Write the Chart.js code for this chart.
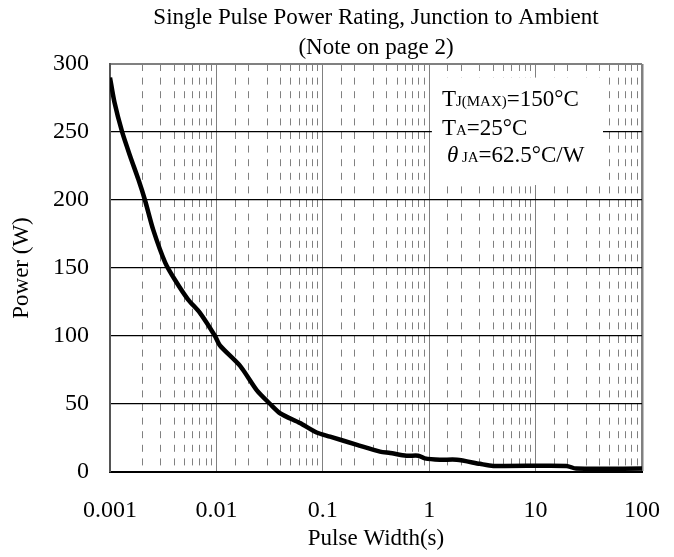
<!DOCTYPE html>
<html>
<head>
<meta charset="utf-8">
<script src="https://cdn.jsdelivr.net/npm/chart.js@4.4.1/dist/chart.umd.min.js"></script>
<style>
  html, body { margin: 0; padding: 0; background: #fff; }
  #wrap { width: 674px; height: 557px; }
</style>
</head>
<body>
<div id="wrap"><canvas id="chart" width="674" height="557"></canvas></div>
<script>
// 单脉冲功率曲线（结到环境）—— 数值从图上读出
const pulseWidth = [0.001, 0.0011, 0.0013, 0.00155, 0.00185, 0.00213, 0.00255, 0.0033, 0.0041,
  0.0054, 0.007, 0.0097, 0.0108, 0.0167, 0.024, 0.032, 0.04, 0.061, 0.0875, 0.117,
  0.21, 0.345, 0.43, 0.61, 0.79, 0.91, 1.26, 1.82, 3.0, 4.0, 19.5, 24, 100]
const powerW = [290, 272, 250, 232, 215, 200, 178, 154, 141,
  127, 117, 100, 93, 78, 60, 50, 43, 36, 29, 26,
  20, 15, 14, 12, 12, 10, 9, 9, 6, 4.5, 4.5, 2.5, 2.5]

const xTickLabels = ['0.001', '0.01', '0.1', '1', '10', '100']
const xDecades = [0.001, 0.01, 0.1, 1, 10, 100]

const titleLines = ['Single Pulse Power Rating, Junction to Ambient', '(Note on page 2)']

// 注释框：x 范围（秒）、y 范围（W）
const noteBoxX = [1.06, 43]
const noteBoxY = [211, 290]
// 每行：[正文, 下标, 正文]
const noteLines = [
  ['T', 'J(MAX)', '=150°C'],
  ['T', 'A', '=25°C'],
  ['θ', ' JA', '=62.5°C/W']
]

const FONT = "'Liberation Serif', 'DejaVu Serif', serif"
Chart.defaults.font.family = FONT
Chart.defaults.color = '#000'

const isDecade = (v) => xDecades.some(d => Math.abs(v / d - 1) < 1e-6)

// 白底注释框 + 文字
const noteBox = {
  id: 'noteBox',
  beforeDatasetsDraw (chart) {
    const { ctx, scales: { x, y } } = chart
    const l = x.getPixelForValue(noteBoxX[0])
    const r = x.getPixelForValue(noteBoxX[1])
    const t = y.getPixelForValue(noteBoxY[1])
    const b = y.getPixelForValue(noteBoxY[0])
    ctx.save()
    ctx.fillStyle = '#fff'
    ctx.fillRect(l, t, r - l, b - t)
    ctx.fillStyle = '#000'
    ctx.textBaseline = 'alphabetic'
    const baselines = [28, 57, 84]
    noteLines.forEach((parts, i) => {
      let cx = l + (i === 2 ? 15 : 10)
      const by = t + baselines[i]
      parts.forEach((p, j) => {
        if (j === 1) ctx.font = '15px ' + FONT
        else if (i === 2 && j === 0) ctx.font = 'italic 23px ' + FONT
        else ctx.font = '23px ' + FONT
        ctx.fillText(p, cx, by)
        cx += ctx.measureText(p).width
      })
    })
    ctx.restore()
  }
}

new Chart(document.getElementById('chart'), {
  type: 'line',
  data: {
    datasets: [{
      data: pulseWidth.map((x, i) => ({ x, y: powerW[i] })),
      borderColor: '#000',
      borderWidth: 4.5,
      pointRadius: 0,
      tension: 0.25,
      fill: false
    }]
  },
  options: {
    responsive: false,
    animation: false,
    layout: { padding: { left: 0, right: 32, top: 0, bottom: 0 } },
    plugins: {
      legend: { display: false },
      tooltip: { enabled: false },
      title: {
        display: true,
        fullSize: false,
        text: titleLines,
        font: { size: 23, weight: 'normal', lineHeight: 1.304 },
        padding: { top: 3, bottom: 1 }
      }
    },
    scales: {
      x: {
        type: 'logarithmic',
        min: 0.001,
        max: 100,
        afterBuildTicks: (s) => { s.ticks = s.ticks.filter(t => isDecade(t.value)) },
        afterFit: (s) => {
          s.height = 85
          // 刻度 padding 会被算进左右留白，这里清掉，绘图区右边由 layout.padding 决定
          s.paddingLeft = 0
          s.paddingRight = 0
        },
        ticks: {
          autoSkip: false,
          maxRotation: 0,
          padding: 24,
          font: { size: 24 },
          callback: (v) => {
            const i = xDecades.findIndex(d => Math.abs(v / d - 1) < 1e-6)
            return i >= 0 ? xTickLabels[i] : ''
          }
        },
        grid: {
          drawTicks: false,
          color: '#808080',
          lineWidth: (c) => (c.tick && c.tick.value >= 99 ? 2.5 : 1)
        },
        border: { display: true, color: '#000', width: 2 },
        title: {
          display: true,
          text: 'Pulse Width(s)',
          font: { size: 23 },
          padding: { top: 0, bottom: 4 }
        }
      },
      xMinor: {
        type: 'logarithmic',
        position: 'top',
        min: 0.001,
        max: 100,
        afterBuildTicks: (s) => { s.ticks = s.ticks.filter(t => !isDecade(t.value)) },
        afterFit: (s) => { s.height = 0 },
        ticks: { display: false },
        grid: { drawTicks: false, color: '#808080', lineWidth: 1 },
        border: { display: false, dash: [7, 6.6] }
      },
      y: {
        min: 0,
        max: 300,
        afterFit: (s) => { s.width = 110 },
        ticks: { stepSize: 50, padding: 21, font: { size: 24 } },
        grid: {
          drawTicks: false,
          color: (c) => (c.tick && c.tick.value === 300 ? '#808080' : '#000'),
          lineWidth: (c) => (c.tick && c.tick.value === 300 ? 2 : 1.2)
        },
        border: { display: true, color: '#555', width: 2 },
        title: {
          display: true,
          text: 'Power (W)',
          font: { size: 23 },
          padding: { top: 8, bottom: 0 }
        }
      }
    }
  },
  plugins: [noteBox]
})
</script>
</body>
</html>
